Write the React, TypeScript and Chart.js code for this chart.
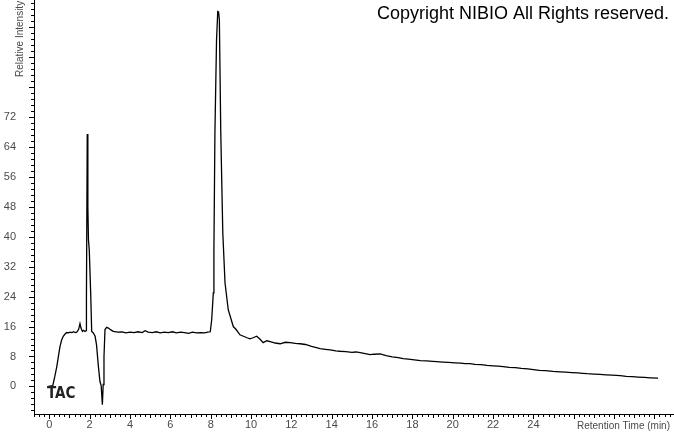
import React, { useEffect, useRef } from 'react';
import { Chart, registerables } from 'chart.js';

Chart.register(...registerables);

// Retention time (min)
const RETENTION_TIME = [
  -0.05, 0.17, 0.27, 0.37, 0.45, 0.53, 0.61, 0.69, 0.78, 0.86, 0.95, 1.03, 1.12, 1.2, 1.28, 1.36,
  1.45, 1.52, 1.57, 1.64, 1.7, 1.77, 1.82, 1.84, 1.88, 1.91, 1.94, 1.98, 2.05, 2.1, 2.18, 2.27,
  2.34, 2.43, 2.51, 2.57, 2.63, 2.67, 2.71, 2.76, 2.84, 2.93, 3.05, 3.17, 3.4, 3.6, 3.8, 4.0,
  4.2, 4.4, 4.6, 4.75, 4.9, 5.1, 5.3, 5.5, 5.7, 5.9, 6.1, 6.3, 6.5, 6.7, 6.9, 7.1,
  7.3, 7.5, 7.7, 7.85, 7.98, 8.05, 8.13, 8.16, 8.21, 8.29, 8.35, 8.39, 8.43, 8.5, 8.6, 8.71,
  8.87, 9.12, 9.26, 9.45, 9.62, 9.8, 9.95, 10.1, 10.28, 10.45, 10.6, 10.78, 10.95, 11.2, 11.44, 11.7,
  11.94, 12.2, 12.43, 12.7, 13.0, 13.2, 13.42, 13.7, 14.0, 14.2, 14.41, 14.7, 15.0, 15.2, 15.41, 15.6,
  15.9, 16.1, 16.4, 16.7, 17.0, 17.3, 17.54, 17.8, 18.1, 18.4, 18.7, 19.0, 19.22, 19.5, 19.8, 20.1,
  20.4, 20.6, 20.86, 21.1, 21.4, 21.7, 22.0, 22.25, 22.5, 22.8, 23.1, 23.4, 23.73, 24.0, 24.3, 24.6,
  24.97, 25.3, 25.6, 25.9, 26.2, 26.45, 26.66, 27.0, 27.3, 27.6, 27.9, 28.3, 28.6, 28.9, 29.2, 29.5,
  29.8, 30.18,
];

// Relative intensity
const INTENSITY = [
  0, 0.2, 2.6, 5.3, 8.0, 10.7, 12.4, 13.4, 14.0, 14.4, 14.3, 14.5, 14.4, 14.6, 14.4, 14.5,
  15.2, 16.8, 15.6, 14.7, 15.0, 14.7, 14.9, 24, 67.5, 48, 39.2, 36.5, 25, 14.7, 14.3, 13.4,
  11.1, 5.5, 1.3, 0.2, -4.9, 0.5, 8, 15.2, 15.8, 15.6, 15.1, 14.7, 14.5, 14.6, 14.3, 14.5,
  14.4, 14.6, 14.4, 14.9, 14.5, 14.4, 14.6, 14.3, 14.5, 14.4, 14.6, 14.3, 14.5, 14.4, 14.2, 14.5,
  14.3, 14.4, 14.3, 14.5, 14.6, 17.8, 25, 36.5, 67.8, 92.6, 100.2, 100.1, 98, 67.8, 41.1, 27.7,
  20.5, 16, 15.2, 13.8, 13.4, 13.0, 12.7, 13.0, 13.4, 12.6, 11.7, 12.2, 12.0, 11.6, 11.4, 11.8,
  11.7, 11.5, 11.4, 11.2, 10.7, 10.4, 10.1, 9.9, 9.7, 9.5, 9.4, 9.3, 9.1, 9.2, 9.0, 8.8,
  8.5, 8.6, 8.7, 8.2, 7.9, 7.7, 7.4, 7.3, 7.1, 6.9, 6.8, 6.7, 6.6, 6.5, 6.4, 6.3,
  6.2, 6.1, 6.1, 5.9, 5.8, 5.6, 5.5, 5.4, 5.3, 5.1, 5.0, 4.8, 4.7, 4.5, 4.3, 4.2,
  4.0, 3.9, 3.8, 3.7, 3.6, 3.5, 3.4, 3.3, 3.2, 3.1, 3.0, 2.9, 2.7, 2.6, 2.5, 2.4,
  2.3, 2.2,
];

const X_TICK_LABELS = [0, 2, 4, 6, 8, 10, 12, 14, 16, 18, 20, 22, 24];
const Y_TICK_LABELS = [0, 8, 16, 24, 32, 40, 48, 56, 64, 72];

const X_MIN = -0.76;
const X_MAX = 30.97;
const Y_MIN = -7.38;
const Y_MAX = 103.3;
const X_MINOR_STEP = 0.25;
const Y_MINOR_STEP = 1.6;

const LABEL_COLOR = '#4a4a4a';

const decorPlugin = {
  id: 'decor',
  afterDraw(chart: any) {
    const ctx = chart.ctx as CanvasRenderingContext2D;
    const xs = chart.scales.x;
    const ys = chart.scales.y;
    const area = chart.chartArea;
    ctx.save();
    ctx.strokeStyle = '#000';
    ctx.lineWidth = 1;
    // x tick marks
    for (let i = Math.ceil(X_MIN / X_MINOR_STEP); i * X_MINOR_STEP <= X_MAX; i++) {
      const px = Math.round(xs.getPixelForValue(i * X_MINOR_STEP)) + 0.5;
      const len = i % 8 === 0 ? 5 : i % 4 === 0 ? 4 : 3;
      ctx.beginPath();
      ctx.moveTo(px, area.bottom);
      ctx.lineTo(px, area.bottom + len);
      ctx.stroke();
    }
    // y tick marks
    for (let i = Math.ceil(Y_MIN / Y_MINOR_STEP); i * Y_MINOR_STEP <= Y_MAX; i++) {
      const py = Math.round(ys.getPixelForValue(i * Y_MINOR_STEP)) + 0.5;
      const len = i % 5 === 0 ? 5 : 3;
      ctx.beginPath();
      ctx.moveTo(area.left, py);
      ctx.lineTo(area.left - len, py);
      ctx.stroke();
    }
    // texts
    ctx.fillStyle = '#000';
    ctx.font = '18px "Liberation Sans", Arial, sans-serif';
    ctx.textAlign = 'right';
    ctx.textBaseline = 'alphabetic';
    ctx.fillText('Copyright NIBIO All Rights reserved.', 669, 19);

    ctx.fillStyle = '#222';
    ctx.font = 'bold 15px "Liberation Sans Narrow", "DejaVu Sans Condensed", sans-serif';
    ctx.textAlign = 'left';
    ctx.fillText('TAC', 47, 398);

    ctx.fillStyle = LABEL_COLOR;
    ctx.font = '10px "Liberation Sans", Arial, sans-serif';
    ctx.textAlign = 'left';
    ctx.fillText('Retention Time (min)', 577, 429);

    ctx.save();
    ctx.translate(23, 77);
    ctx.rotate(-Math.PI / 2);
    ctx.textAlign = 'left';
    ctx.fillText('Relative Intensity', 0, 0);
    ctx.restore();

    ctx.restore();
  },
};

export default function App() {
  const canvasRef = useRef<HTMLCanvasElement | null>(null);

  useEffect(() => {
    document.body.style.margin = '0';
    const canvas = canvasRef.current;
    if (!canvas) return;
    const points = RETENTION_TIME.map((t, i) => ({ x: t, y: INTENSITY[i] }));
    const chart = new Chart(canvas, {
      type: 'line',
      data: {
        datasets: [
          {
            data: points,
            borderColor: '#000',
            borderWidth: 1.3,
            pointRadius: 0,
            tension: 0,
            fill: false,
          },
        ],
      },
      options: {
        animation: false,
        responsive: false,
        maintainAspectRatio: false,
        layout: { padding: 0 },
        plugins: { legend: { display: false }, tooltip: { enabled: false }, title: { display: false } },
        scales: {
          x: {
            type: 'linear',
            min: X_MIN,
            max: X_MAX,
            afterBuildTicks: (s: any) => {
              s.ticks = X_TICK_LABELS.map((v) => ({ value: v }));
            },
            afterFit: (s: any) => {
              s.height = 20;
              s.paddingLeft = 0;
              s.paddingRight = 0;
              s.paddingTop = 0;
              s.paddingBottom = 0;
            },
            ticks: {
              autoSkip: false,
              maxRotation: 0,
              padding: 4,
              color: LABEL_COLOR,
              font: { family: '"Liberation Sans", Arial, sans-serif', size: 11 },
            },
            grid: { display: false, drawTicks: false },
            border: { display: true, color: '#000', width: 1 },
          },
          y: {
            type: 'linear',
            min: Y_MIN,
            max: Y_MAX,
            afterBuildTicks: (s: any) => {
              s.ticks = Y_TICK_LABELS.map((v) => ({ value: v }));
            },
            afterFit: (s: any) => {
              s.width = 34;
              s.paddingLeft = 0;
              s.paddingRight = 0;
              s.paddingTop = 0;
              s.paddingBottom = 0;
            },
            ticks: {
              autoSkip: false,
              padding: 18,
              color: LABEL_COLOR,
              font: { family: '"Liberation Sans", Arial, sans-serif', size: 11 },
            },
            grid: { display: false, drawTicks: false },
            border: { display: true, color: '#000', width: 1 },
          },
        },
      },
      plugins: [decorPlugin],
    });
    return () => chart.destroy();
  }, []);

  return (
    <div style={{ width: 674, height: 434, background: '#fff' }}>
      <canvas ref={canvasRef} width={674} height={434} style={{ display: 'block' }} />
    </div>
  );
}
